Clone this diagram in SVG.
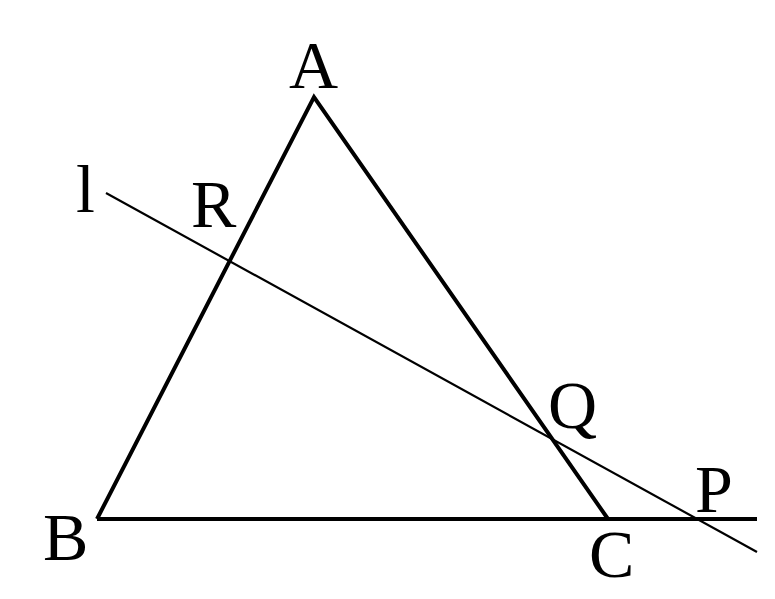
<svg xmlns="http://www.w3.org/2000/svg" width="775" height="599" viewBox="0 0 775 599">
<style>
.thick{stroke:#000;stroke-width:4;fill:none;stroke-linejoin:miter}
.thin{stroke:#000;stroke-width:2.2;fill:none}
.lbl{font-family:"Liberation Serif","Times New Roman",serif;font-size:68px;fill:#000}
</style>
<rect width="775" height="599" fill="#fff"/>
<g id="connectors">
<path class="thick" d="M97,519 L314,97 L608,519"/>
<line class="thick" x1="97" y1="519" x2="757" y2="519"/>
<line class="thin" x1="106" y1="193" x2="757" y2="552"/>
</g>
<g id="A"><text class="lbl" x="289" y="88">A</text></g>
<g id="l"><text class="lbl" x="76" y="212">l</text></g>
<g id="R"><text class="lbl" x="191" y="227">R</text></g>
<g id="Q"><text class="lbl" x="548" y="428">Q</text></g>
<g id="P"><text class="lbl" x="695" y="512">P</text></g>
<g id="B"><text class="lbl" x="43" y="560">B</text></g>
<g id="C"><text class="lbl" x="589" y="577">C</text></g>
</svg>
